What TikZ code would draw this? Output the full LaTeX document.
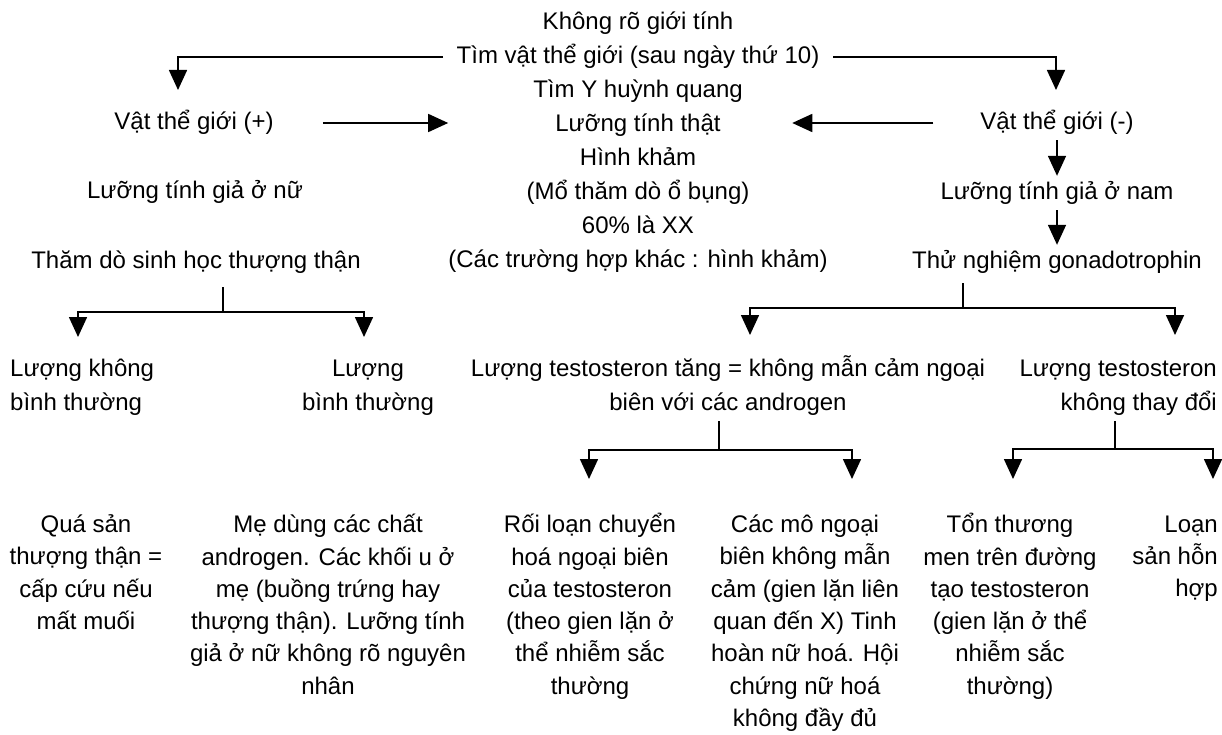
\documentclass[tikz,border=0pt]{standalone}
\usepackage{fontspec}
\setmainfont{Liberation Sans}
\usetikzlibrary{arrows.meta,calc}
\begin{document}
\begin{tikzpicture}[x=1pt,y=-1pt,
  txt/.style={font=\fontsize{24}{34}\selectfont, inner sep=0pt, align=center},
  low/.style={font=\fontsize{24}{32.3}\selectfont, inner sep=0pt, align=center},
  arr/.style={-{Triangle[length=20pt,width=18pt]}, line width=1.6pt},
  ln/.style={line width=1.6pt}]
\useasboundingbox[fill=white] (0,0) rectangle (1222,735);

% centre column
\node[txt] (C) at (638,142) {\strut Không rõ giới tính\\\strut Tìm vật thể giới (sau ngày thứ 10)\\\strut Tìm Y huỳnh quang\\\strut Lưỡng tính thật\\\strut Hình khảm\\\strut (Mổ thăm dò ổ bụng)\\\strut 60\% là XX\\\strut (Các trường hợp khác : hình khảm)};

% left column
\node[txt] (VP) at (194,123) {\strut Vật thể giới (+)};
\node[txt] (LN) at (195,192) {\strut Lưỡng tính giả ở nữ};
\node[txt] (TD) at (196,262) {\strut Thăm dò sinh học thượng thận};

% right column
\node[txt] (VM) at (1057,123) {\strut Vật thể giới (-)};
\node[txt] (LM) at (1057,193) {\strut Lưỡng tính giả ở nam};
\node[txt] (TN) at (1057,262) {\strut Thử nghiệm gonadotrophin};

% second row
\node[txt,align=left,anchor=west] (A1) at (10,387) {\strut Lượng không\\\strut bình thường};
\node[txt] (A2) at (368,387) {\strut Lượng\\\strut bình thường};
\node[txt] (A3) at (728,387) {\strut Lượng testosteron tăng = không mẫn cảm ngoại\\\strut biên với các androgen};
\node[txt,align=right,anchor=east] (A4) at (1217,387) {\strut Lượng testosteron\\\strut không thay đổi};

% third row
\node[low] (B1) at (86,574.5) {\strut Quá sản\\\strut thượng thận =\\\strut cấp cứu nếu\\\strut mất muối};
\node[low] (B2) at (328,607) {\strut Mẹ dùng các chất\\\strut androgen. Các khối u ở\\\strut mẹ (buồng trứng hay\\\strut thượng thận). Lưỡng tính\\\strut giả ở nữ không rõ nguyên\\\strut nhân};
\node[low] (B3) at (590,607) {\strut Rối loạn chuyển\\\strut hoá ngoại biên\\\strut của testosteron\\\strut (theo gien lặn ở\\\strut thể nhiễm sắc\\\strut thường};
\node[low] (B4) at (805,623) {\strut Các mô ngoại\\\strut biên không mẫn\\\strut cảm (gien lặn liên\\\strut quan đến X) Tinh\\\strut hoàn nữ hoá. Hội\\\strut chứng nữ hoá\\\strut không đầy đủ};
\node[low] (B5) at (1010,607) {\strut Tổn thương\\\strut men trên đường\\\strut tạo testosteron\\\strut (gien lặn ở thể\\\strut nhiễm sắc\\\strut thường)};
\node[low,align=right,anchor=east] (B6) at (1218,558) {\strut Loạn\\\strut sản hỗn\\\strut hợp};

% top connectors
\coordinate (tlA) at (443,57); \coordinate (tlB) at (178,90);
\coordinate (trA) at (833,57); \coordinate (trB) at (1056,90);
\draw[arr] (tlA) -| (tlB);
\draw[arr] (trA) -| (trB);
\draw[arr] ([xshift=49pt]VP.east) -- (VP.east -| C.west);
\draw[arr] ([xshift=-47pt]VM.west) -- ++(-141,0);
\draw[arr] (VM.south) -- (LM.north);
\draw[arr] (LM.south) -- (TN.north);

% branch under TD
\coordinate (j1) at (223,312); \coordinate (t11) at (78,337); \coordinate (t12) at (364,337);
\draw[ln] ($(TD.south -| j1)+(0,8)$) -- (j1);
\draw[arr] (j1) -| (t11);
\draw[arr] (j1) -| (t12);

% branch under TN
\coordinate (j2) at (963,308); \coordinate (t21) at (750,335); \coordinate (t22) at (1175,335);
\draw[ln] ($(TN.south -| j2)+(0,4)$) -- (j2);
\draw[arr] (j2) -| (t21);
\draw[arr] (j2) -| (t22);

% branch under A3
\coordinate (j3) at (719,450); \coordinate (t31) at (589,479); \coordinate (t32) at (852,479);
\draw[ln] (A3.south -| j3) -- (j3);
\draw[arr] (j3) -| (t31);
\draw[arr] (j3) -| (t32);

% branch under A4
\coordinate (j4) at (1115,449); \coordinate (t41) at (1013,479); \coordinate (t42) at (1213,479);
\draw[ln] (A4.south -| j4) -- (j4);
\draw[arr] (j4) -| (t41);
\draw[arr] (j4) -| (t42);
\end{tikzpicture}
\end{document}
